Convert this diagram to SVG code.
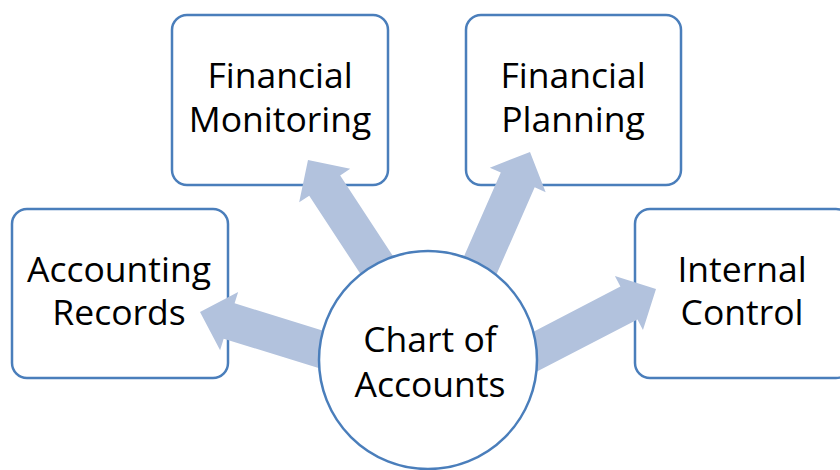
<svg xmlns="http://www.w3.org/2000/svg" width="840" height="470" viewBox="0 0 840 470">
<style>
.box{fill:#fff;stroke:#4A7EBB;stroke-width:2.5}
.arrow{fill:#B2C2DD;stroke:none}
.lbl{font-family:"Open Sans","Liberation Sans",sans-serif;font-size:35.5px;fill:#000;text-anchor:middle}
</style>
<defs>
<polygon id="arr" points="0,0 -30.5,-30.5 -30.5,-18.5 -210,-18.5 -210,18.5 -30.5,18.5 -30.5,30.5"/>
</defs>
<rect width="840" height="470" fill="#fff"/>
<g id="accounting-records">
<rect class="box" x="12" y="209" width="216" height="169" rx="15"/>
<text class="lbl" x="119" y="282">Accounting</text>
<text class="lbl" x="119" y="325">Records</text>
</g>
<g id="financial-monitoring">
<rect class="box" x="172" y="15" width="216" height="170" rx="15"/>
<text class="lbl" x="280" y="88">Financial</text>
<text class="lbl" x="280" y="132">Monitoring</text>
</g>
<g id="financial-planning">
<rect class="box" x="466" y="15" width="215" height="170" rx="15"/>
<text class="lbl" x="573" y="88">Financial</text>
<text class="lbl" x="573" y="132">Planning</text>
</g>
<g id="internal-control">
<rect class="box" x="635" y="209" width="216" height="169" rx="15"/>
<text class="lbl" x="742" y="282">Internal</text>
<text class="lbl" x="742" y="325">Control</text>
</g>
<g id="connectors">
<use href="#arr" class="arrow" transform="translate(200,312) rotate(197.2)"/>
<use href="#arr" class="arrow" transform="translate(308,160) rotate(-123.2)"/>
<use href="#arr" class="arrow" transform="translate(530,152) rotate(-66.3)"/>
<use href="#arr" class="arrow" transform="translate(656,289) rotate(-27.4)"/>
</g>
<g id="chart-of-accounts">
<circle class="box" cx="428" cy="360" r="109"/>
<text class="lbl" x="430" y="352">Chart of</text>
<text class="lbl" x="430" y="397">Accounts</text>
</g>
</svg>
